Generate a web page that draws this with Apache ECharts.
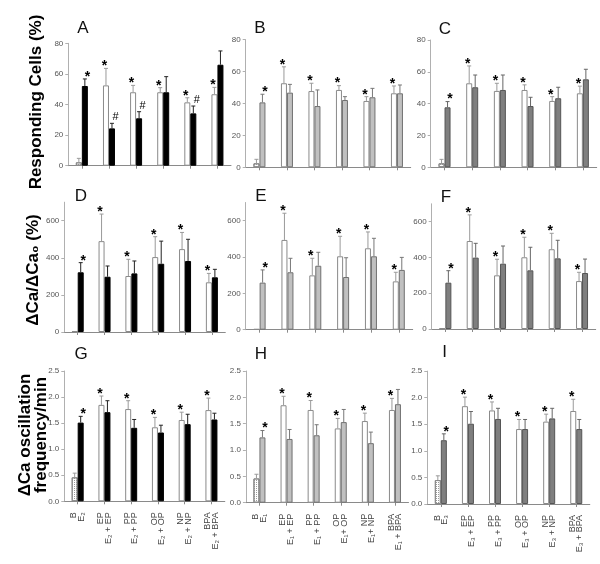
<!DOCTYPE html>
<html><head><meta charset="utf-8">
<script src="https://cdn.jsdelivr.net/npm/echarts@6/dist/echarts.min.js"></script>
<style>html,body{margin:0;padding:0;background:#fff}#c{width:600px;height:564px}</style>
</head><body><div id="c"></div>
<script>
// ---------- data ----------
const groups = ['B', 'EP', 'PP', 'OP', 'NP', 'BPA'];
const labelsG = ['B\nE₂', 'EP\nE₂ + EP', 'PP\nE₂ + PP', 'OP\nE₂ + OP', 'NP\nE₂ + NP', 'BPA\nE₂ + BPA'];
const labelsH = ['B\nE₁', 'EP\nE₁ + EP', 'PP\nE₁ + PP', 'OP\nE₁+ OP', 'NP\nE₁+ NP', 'BPA\nE₁ + BPA'];
const labelsI = ['B\nE₃', 'EP\nE₃ + EP', 'PP\nE₃ + PP', 'OP\nE₃ + OP', 'NP\nE₃ + NP', 'BPA\nE₃ + BPA'];

const ticksPct = [0, 20, 40, 60, 80];
const ticksRatio = [0, 200, 400, 600];
const ticksFreq = [0, 0.5, 1.0, 1.5, 2.0, 2.5];

// Responding cells (%)
const aWhite = [2.2, 52.5, 48, 48, 41.4, 46.7];
const aWhiteTop = [4.8, 63.6, 52.5, 51, 44.4, 51.2];
const aCol = [52.1, 24.4, 31, 48, 34.2, 66];
const aColTop = [56.7, 27.7, 35.3, 58.2, 39, 75];

const bWhite = [2.5, 52.7, 47.8, 48.5, 41.6, 46.4];
const bWhiteTop = [5, 63, 52.7, 51.2, 44.3, 51];
const bCol = [40.7, 46.8, 38.4, 42.2, 43.9, 46.4];
const bColTop = [45.8, 52, 48.5, 44.3, 49.5, 51.6];

const cWhite = [2.5, 52.8, 48, 48.6, 41.7, 46.5];
const cWhiteTop = [5, 63.7, 52.8, 51.8, 44.4, 51];
const cCol = [37.7, 50.3, 48.6, 38.5, 43.4, 55.3];
const cColTop = [41.3, 58, 58, 44, 50.3, 61.6];

// dCa/dCa0 (%)
const dWhite = [3, 490, 302, 404, 447, 268];
const dWhiteTop = [3, 636, 392, 514, 537, 316];
const dCol = [322, 298, 316, 368, 383, 295];
const dColTop = [374, 356, 383, 490, 500, 338];

const eWhite = [3, 494, 299, 404, 448, 266];
const eWhiteTop = [3, 641, 393, 514, 538, 316];
const eCol = [259, 316, 352, 290, 404, 329];
const eColTop = [329, 393, 426, 396, 503, 398];

const fWhite = [3, 492, 300, 401, 446, 268];
const fWhiteTop = [3, 638, 390, 513, 535, 317];
const fCol = [259, 399, 365, 328, 395, 313];
const fColTop = [326, 479, 464, 457, 496, 391];

// oscillation frequency / min
const gWhite = [0.46, 1.85, 1.77, 1.42, 1.56, 1.75];
const gWhiteTop = [0.54, 2.02, 1.93, 1.61, 1.71, 1.98];
const gCol = [1.51, 1.71, 1.41, 1.32, 1.48, 1.57];
const gColTop = [1.63, 1.93, 1.57, 1.46, 1.67, 1.69];

const hWhite = [0.46, 1.85, 1.76, 1.41, 1.55, 1.76];
const hWhiteTop = [0.54, 2.02, 1.94, 1.6, 1.7, 1.98];
const hCol = [1.24, 1.21, 1.28, 1.53, 1.13, 1.87];
const hColTop = [1.37, 1.39, 1.48, 1.77, 1.34, 2.15];

const iWhite = [0.45, 1.84, 1.76, 1.41, 1.55, 1.75];
const iWhiteTop = [0.53, 2.01, 1.92, 1.59, 1.69, 1.97];
const iCol = [1.2, 1.51, 1.6, 1.41, 1.61, 1.41];
const iColTop = [1.32, 1.74, 1.8, 1.59, 1.8, 1.59];

// significance marks
const marksWhite = ['', '*', '*', '*', '*', '*'];
const marksColA = ['*', '#', '#', '', '#', ''];
const marksCol = ['*', '', '', '', '', ''];

// ---------- chart ----------
const FONT = '"Liberation Sans", Arial, Helvetica, sans-serif';
const BLACK = {fill: '#000', border: '#000', err: '#222'};
const LGRAY = {fill: '#c0c0c0', border: '#707070', err: '#777'};
const DGRAY = {fill: '#7f7f7f', border: '#555', err: '#666'};

const panels = [
  {L: 'A', w: aWhite, wt: aWhiteTop, c: aCol, ct: aColTop, mc: marksColA, ticks: ticksPct, sty: BLACK, box: [68.3, 43.3, 162.7, 122.4], lp: [83, 28]},
  {L: 'B', w: bWhite, wt: bWhiteTop, c: bCol, ct: bColTop, mc: marksCol, ticks: ticksPct, sty: LGRAY, box: [245.7, 39.7, 165, 127.6], lp: [260, 28]},
  {L: 'C', w: cWhite, wt: cWhiteTop, c: cCol, ct: cColTop, mc: marksCol, ticks: ticksPct, sty: DGRAY, box: [430.7, 40, 166, 127.3], lp: [445, 29]},
  {L: 'D', w: dWhite, wt: dWhiteTop, c: dCol, ct: dColTop, mc: marksCol, ticks: ticksRatio, ymax: 700, sty: BLACK, box: [64.3, 202.2, 161, 129.8], lp: [81, 196]},
  {L: 'E', w: eWhite, wt: eWhiteTop, c: eCol, ct: eColTop, mc: marksCol, ticks: ticksRatio, ymax: 700, sty: LGRAY, box: [245.7, 202.5, 167, 127.2], lp: [261, 196]},
  {L: 'F', w: fWhite, wt: fWhiteTop, c: fCol, ct: fColTop, mc: marksCol, ticks: ticksRatio, ymax: 700, sty: DGRAY, box: [431.7, 203.8, 164, 125.2], lp: [446, 197]},
  {L: 'G', w: gWhite, wt: gWhiteTop, c: gCol, ct: gColTop, mc: marksCol, ticks: ticksFreq, sty: BLACK, box: [64.3, 371, 160.5, 130.3], lp: [81, 354], labels: labelsG},
  {L: 'H', w: hWhite, wt: hWhiteTop, c: hCol, ct: hColTop, mc: marksCol, ticks: ticksFreq, sty: LGRAY, box: [245.9, 371, 162.6, 131.7], lp: [261, 354], labels: labelsH},
  {L: 'I', w: iWhite, wt: iWhiteTop, c: iCol, ct: iColTop, mc: marksCol, ticks: ticksFreq, sty: DGRAY, box: [427.3, 371.1, 162.5, 132.9], lp: [444.5, 352], labels: labelsI}
];

const BW = 6;
const dotDecal = {symbol: 'rect', symbolSize: 1, dashArrayX: [1, 1], dashArrayY: [1, 1], color: '#9a9a9a', rotation: 0};

const grid = [], xAxis = [], yAxis = [], series = [], graphic = [];

panels.forEach((p, k) => {
  grid.push({left: p.box[0], top: p.box[1], width: p.box[2], height: p.box[3], containLabel: false});
  const step = p.ticks[1] - p.ticks[0];
  const ymax = p.ymax || p.ticks[p.ticks.length - 1];
  const isFreq = p.ticks === ticksFreq;
  xAxis.push({
    type: 'category', gridIndex: k, data: p.labels || groups,
    axisLine: {lineStyle: {color: '#8a8a8a', width: 1}},
    axisTick: {show: true, alignWithLabel: true, length: 3, lineStyle: {color: '#8a8a8a'}},
    axisLabel: {show: !!p.labels, interval: 0, rotate: 90, fontSize: 9, lineHeight: 7.5, color: '#444', margin: 11, fontFamily: FONT}
  });
  yAxis.push({
    type: 'value', gridIndex: k, min: 0, max: ymax, interval: step,
    splitLine: {show: false},
    axisLine: {show: true, lineStyle: {color: '#b0b0b0', width: 1}},
    axisTick: {show: true, length: 3, lineStyle: {color: '#b0b0b0'}, customValues: p.ticks},
    axisLabel: {fontSize: 8, color: '#555', margin: 5, fontFamily: FONT, customValues: p.ticks,
      formatter: v => isFreq ? Number(v).toFixed(1) : String(v)}
  });
  series.push({
    type: 'bar', xAxisIndex: k, yAxisIndex: k, barWidth: BW, barGap: '0%', animation: false,
    itemStyle: {color: '#fff', borderColor: '#8a8a8a', borderWidth: 1},
    data: p.w.map((v, i) => i === 0 ? {value: v, itemStyle: {color: '#fff', decal: dotDecal}} : v)
  });
  series.push({
    type: 'bar', xAxisIndex: k, yAxisIndex: k, barWidth: BW, barGap: '0%', animation: false,
    itemStyle: {color: p.sty.fill, borderColor: p.sty.border, borderWidth: 1},
    data: p.c
  });
  const errData = [];
  p.w.forEach((v, i) => errData.push([i, 0, v, p.wt[i]]));
  p.c.forEach((v, i) => errData.push([i, 1, v, p.ct[i]]));
  series.push({
    type: 'custom', xAxisIndex: k, yAxisIndex: k, animation: false, z: 5, clip: false,
    data: errData,
    renderItem: (params, api) => {
      const i = api.value(0), side = api.value(1);
      const b = api.coord([i, api.value(2)]);
      const t = api.coord([i, api.value(3)]);
      const x = b[0] + (side === 0 ? -BW / 2 : BW / 2);
      const children = [];
      const ec = side === 0 ? '#9a9a9a' : p.sty.err;
      if (t[1] < b[1] - 0.5) {
        children.push({type: 'line', shape: {x1: x, y1: b[1], x2: x, y2: t[1]}, style: {stroke: ec, lineWidth: 1}});
        children.push({type: 'line', shape: {x1: x - 2, y1: t[1], x2: x + 2, y2: t[1]}, style: {stroke: ec, lineWidth: 1}});
      }
      const m = side === 0 ? marksWhite[i] : p.mc[i];
      if (m === '*') {
        children.push({type: 'text', style: {text: '*', x: x + (side === 0 ? -1.5 : 2.5), y: t[1] - 2,
          fontSize: 14, fontWeight: 'bold', fontFamily: FONT, fill: '#000', align: 'center', verticalAlign: 'middle'}});
      } else if (m === '#') {
        children.push({type: 'text', style: {text: '#', x: x + 3.5, y: t[1] - 6,
          fontSize: 11, fontFamily: FONT, fill: '#000', align: 'center', verticalAlign: 'middle'}});
      }
      return {type: 'group', children};
    }
  });
  graphic.push({type: 'text', x: p.lp[0], y: p.lp[1], style: {text: p.L, fontSize: 17, fontFamily: FONT, fill: '#111', align: 'center', verticalAlign: 'middle'}});
});

graphic.push({type: 'text', x: 36, y: 102, rotation: Math.PI / 2,
  style: {text: 'Responding Cells (%)', fontSize: 17, fontWeight: 'bold', fontFamily: FONT, fill: '#000', align: 'center', verticalAlign: 'middle'}});
graphic.push({type: 'text', x: 33, y: 270, rotation: Math.PI / 2,
  style: {text: 'ΔCa/ΔCa₀ (%)', fontSize: 17, fontWeight: 'bold', fontFamily: FONT, fill: '#000', align: 'center', verticalAlign: 'middle'}});
graphic.push({type: 'text', x: 33, y: 435, rotation: Math.PI / 2,
  style: {text: 'ΔCa oscillation\nfrequency/min', fontSize: 17, lineHeight: 16, fontWeight: 'bold', fontFamily: FONT, fill: '#000', align: 'center', verticalAlign: 'middle'}});

const chart = echarts.init(document.getElementById('c'), null, {renderer: 'canvas'});
chart.setOption({
  animation: false,
  backgroundColor: '#fff',
  textStyle: {fontFamily: FONT},
  grid, xAxis, yAxis, series, graphic
});
</script></body></html>
